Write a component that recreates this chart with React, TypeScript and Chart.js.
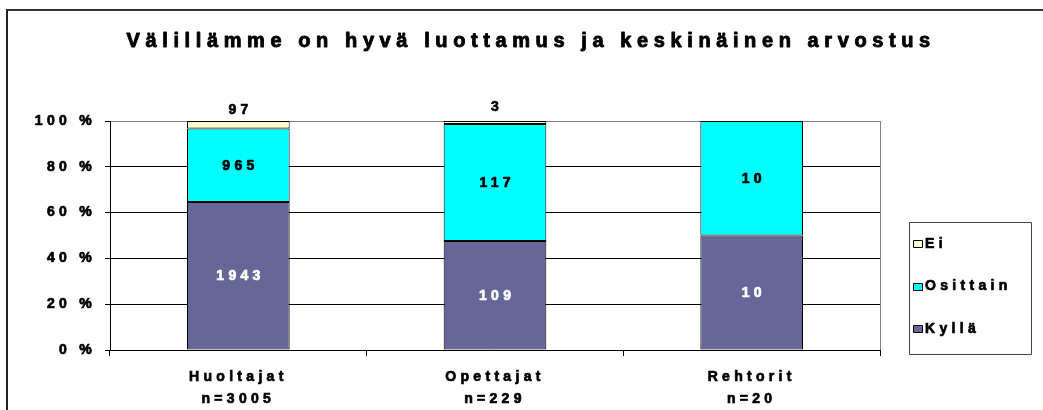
import React, { useEffect, useRef } from 'react';
import { Chart, registerables } from 'chart.js';

Chart.register(...registerables);

const TITLE = 'Välillämme on hyvä luottamus ja keskinäinen arvostus';
const categories = ['Huoltajat', 'Opettajat', 'Rehtorit'];
const respondents = ['n=3005', 'n=229', 'n=20'];
const seriesNames = ['Kyllä', 'Osittain', 'Ei'];
const kylla = [1943, 109, 10];
const osittain = [965, 117, 10];
const ei = [97, 3, 0];
const yTicks = [0, 20, 40, 60, 80, 100];
const seriesColors = ['#666699', '#00FFFF', '#FFFFCC'];

const counts = [kylla, osittain, ei];
const totals = categories.map((_, j) => counts.reduce((s, arr) => s + arr[j], 0));
const percents = counts.map((arr) => arr.map((v, j) => (v / totals[j]) * 100));

const FONT = '"Liberation Sans", Arial, Helvetica, sans-serif';
const SP = 4.3;
const TITLE_SP = 5.6;
const STROKE = 0.7;

function drawText(ctx: any, text: string, x: number, y: number, color: string, stroke = STROKE) {
  ctx.lineJoin = 'round';
  ctx.lineWidth = stroke;
  ctx.strokeStyle = color;
  ctx.fillStyle = color;
  ctx.strokeText(text, x, y);
  ctx.fillText(text, x, y);
}

const customPlugin = {
  id: 'customLook',
  beforeDraw(chart: any) {
    chart.ctx.letterSpacing = SP + 'px';
  },
  beforeDatasetsDraw(chart: any) {
    const { ctx, chartArea } = chart;
    ctx.save();
    ctx.strokeStyle = '#808080';
    ctx.lineWidth = 1;
    ctx.beginPath();
    const x = Math.round(chartArea.right) + 0.5;
    ctx.moveTo(x, chartArea.top);
    ctx.lineTo(x, chartArea.bottom);
    ctx.stroke();
    ctx.restore();
  },
  afterDatasetsDraw(chart: any) {
    const { ctx } = chart;
    ctx.save();
    ctx.letterSpacing = SP + 'px';
    ctx.font = `bold 14px ${FONT}`;
    ctx.textAlign = 'center';
    ctx.textBaseline = 'middle';
    counts.forEach((arr, i) => {
      const meta = chart.getDatasetMeta(i);
      meta.data.forEach((bar: any, j: number) => {
        const v = arr[j];
        if (!v) return;
        const { x, y, base } = bar.getProps(['x', 'y', 'base'], true);
        let cy = (y + base) / 2;
        if (i === 2) cy -= 15.5;
        drawText(ctx, String(v), x + SP / 2, cy + 0.5, i === 0 ? '#FFFFFF' : '#000000');
      });
    });
    ctx.restore();
  },
  afterDraw(chart: any) {
    const { ctx } = chart;
    ctx.save();
    // Title
    ctx.letterSpacing = TITLE_SP + 'px';
    ctx.font = `bold 20px ${FONT}`;
    ctx.textAlign = 'center';
    ctx.textBaseline = 'alphabetic';
    drawText(ctx, TITLE, 520.4 + TITLE_SP / 2, 35.5, '#000', 0.9);

    // Legend
    ctx.letterSpacing = SP + 'px';
    ctx.strokeStyle = '#444';
    ctx.lineWidth = 1;
    ctx.strokeRect(901.5, 211.5, 122, 132);
    ctx.font = `bold 14px ${FONT}`;
    ctx.textAlign = 'left';
    ctx.textBaseline = 'middle';
    const rows = [232.3, 275, 317.3];
    const order = [2, 1, 0];
    order.forEach((di, r) => {
      const ds = chart.data.datasets[di];
      const cy = rows[r];
      const top = Math.round(cy - 3.5) + 0.5;
      ctx.fillStyle = ds.backgroundColor;
      ctx.fillRect(905.5, top, 9, 7);
      ctx.lineWidth = 1;
      ctx.strokeStyle = '#000';
      ctx.strokeRect(905.5, top, 9, 7);
      drawText(ctx, ds.label, 917, cy + 0.5, '#000');
    });
    ctx.restore();
  },
};

export default function App() {
  const canvasRef = useRef<HTMLCanvasElement | null>(null);

  useEffect(() => {
    const canvas = canvasRef.current;
    if (!canvas) return;
    const chart = new Chart(canvas, {
      type: 'bar',
      data: {
        labels: categories.map((c, j) => [c, respondents[j]]),
        datasets: seriesNames.map((name, i) => ({
          label: name,
          data: percents[i],
          backgroundColor: seriesColors[i],
          borderColor: '#000000',
          borderWidth: 1,
          borderSkipped: false,
          categoryPercentage: 1,
          barPercentage: 0.4,
        })),
      },
      options: {
        responsive: false,
        animation: false,
        devicePixelRatio: 1,
        layout: { padding: { top: 110, right: 163, bottom: 0, left: 0 } },
        plugins: {
          legend: { display: false },
          title: { display: false },
          tooltip: { enabled: false },
        },
        scales: {
          x: {
            stacked: true,
            offset: true,
            grid: {
              display: true,
              offset: true,
              drawOnChartArea: false,
              drawTicks: true,
              tickLength: 6,
              color: '#000',
              tickColor: '#000',
            },
            border: { display: true, color: '#000', width: 1 },
            ticks: {
              color: '#000',
              font: { family: FONT, size: 14, weight: 'bold', lineHeight: '22px' },
              textStrokeColor: '#000',
              textStrokeWidth: STROKE,
              padding: 10,
              maxRotation: 0,
              minRotation: 0,
              autoSkip: false,
            },
            afterFit(scale: any) {
              scale.height = 60;
            },
          },
          y: {
            stacked: true,
            min: 0,
            max: 100,
            afterBuildTicks(scale: any) {
              scale.ticks = yTicks.map((v) => ({ value: v }));
            },
            grid: {
              color: (ctx: any) => (ctx.tick && ctx.tick.value === 100 ? '#808080' : '#000000'),
              tickColor: '#000',
              tickLength: 5,
              lineWidth: 1,
            },
            border: { display: true, color: '#000', width: 1 },
            ticks: {
              color: '#000',
              font: { family: FONT, size: 14, weight: 'bold' },
              textStrokeColor: '#000',
              textStrokeWidth: STROKE,
              padding: 9,
              callback: (v: any) => `${v} %`,
            },
            afterFit(scale: any) {
              scale.width = 102;
            },
          },
        },
      },
      plugins: [customPlugin],
    } as any);
    return () => chart.destroy();
  }, []);

  return (
    <div
      style={{
        position: 'fixed',
        left: 6,
        top: 9,
        borderLeft: '2px solid #222',
        borderTop: '2px solid #333',
        background: '#fff',
      }}
    >
      <canvas ref={canvasRef} width={1035} height={399} style={{ display: 'block', width: 1035, height: 399 }} />
    </div>
  );
}
